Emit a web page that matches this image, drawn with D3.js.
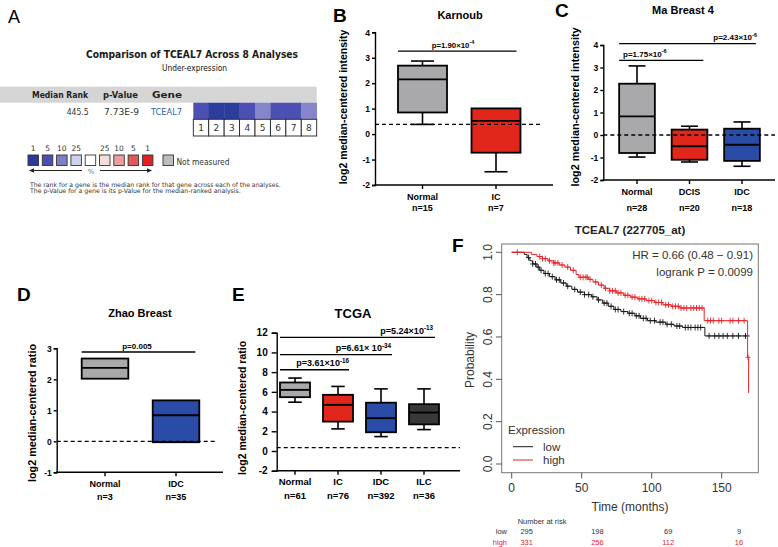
<!DOCTYPE html>
<html><head><meta charset="utf-8">
<script src="https://cdn.jsdelivr.net/npm/d3@7/dist/d3.min.js"></script>
<style>body{margin:0;background:#fff}svg{display:block}</style>
</head><body><svg id="c" width="778" height="547"></svg>
<script>
// ---------------- DATA ----------------
// Panel A
const aTitle = "Comparison of TCEAL7 Across 8 Analyses";
const aSubtitle = "Under-expression";
const aHeader = ["Median Rank", "p-Value", "Gene"];
const aRow = ["445.5", "7.73E-9", "TCEAL7"];
const aCells = [1, 2, 3, 4, 5, 6, 7, 8];
const aCellRank = [5, 1, 1, 5, 10, 5, 5, 10];
const aLegendLabels = ["1", "5", "10", "25", "", "25", "10", "5", "1"];
const aNotes = ["The rank for a gene is the median rank for that gene across each of the analyses.",
                "The p-Value for a gene is its p-Value for the median-ranked analysis."];
// Panel B (Karnoub) : [min, q1, median, q3, max]
const bCats = ["Normal", "IC"];
const bN = ["n=15", "n=7"];
const bStats = [[0.38, 0.85, 2.15, 2.69, 2.87], [-1.48, -0.73, 0.52, 1.01, 1.01]];
const bTicks = [-2, -1, 0, 1, 2, 3, 4];
const bRef = 0.38;
const bP = [{from: "Normal", to: "IC", v: 3.26, txt: "p=1.90×10", exp: "-4"}];
// Panel C (Ma Breast 4)
const cCats = ["Normal", "DCIS", "IDC"];
const cN = ["n=28", "n=20", "n=18"];
const cStats = [[-0.98, -0.8, 0.83, 2.28, 3.07], [-1.2, -1.1, -0.5, 0.24, 0.39], [-1.39, -1.15, -0.43, 0.28, 0.58]];
const cTicks = [-2, -1, 0, 1, 2, 3, 4];
const cRef = 0;
const cP = [{from: "Normal", to: "DCIS", v: 3.32, txt: "p=1.75×10", exp: "-6"},
            {from: "Normal", to: "IDC", v: 4.06, txt: "p=2.43×10", exp: "-6"}];
// Panel D (Zhao Breast)
const dCats = ["Normal", "IDC"];
const dN = ["n=3", "n=35"];
const dStats = [[2.02, 2.02, 2.37, 2.67, 2.67], [-0.03, -0.03, 0.84, 1.32, 1.32]];
const dTicks = [-1, 0, 1, 2, 3];
const dRef = 0;
const dP = [{from: "Normal", to: "IDC", v: 2.88, txt: "p=0.005", exp: ""}];
// Panel E (TCGA)
const eCats = ["Normal", "IC", "IDC", "ILC"];
const eN = ["n=61", "n=76", "n=392", "n=36"];
const eStats = [[4.95, 5.46, 6.2, 6.95, 7.4], [2.24, 2.98, 4.68, 5.7, 6.55], [1.46, 1.9, 3.33, 4.9, 6.3], [2.17, 2.7, 3.9, 4.75, 6.3]];
const eTicks = [-2, 0, 2, 4, 6, 8, 10, 12];
const eRef = 0.34;
const eP = [{from: "Normal", to: "IC", v: 8.24, txt: "p=3.61×10", exp: "-16"},
            {from: "Normal", to: "IDC", v: 9.77, txt: "p=6.61× 10", exp: "-34"},
            {from: "Normal", to: "ILC", v: 11.53, txt: "p=5.24×10", exp: "-13"}];
// Panel F (Kaplan-Meier)
const fTitle = "TCEAL7 (227705_at)";
const fHR = "HR = 0.66 (0.48 \u2212 0.91)";
const fLogrank = "logrank P = 0.0099";
const fXTicks = [0, 50, 100, 150];
const fYTicks = [0, 0.2, 0.4, 0.6, 0.8, 1.0];
const lowT = [0, 9, 11, 13, 15, 18, 20, 23, 27, 31, 35, 39, 43, 47, 52, 57, 61, 65, 69, 73, 78, 83, 88, 92, 97, 103, 110, 116, 122, 138];
const lowS = [1.0, 0.99, 0.975, 0.96, 0.945, 0.93, 0.915, 0.9, 0.885, 0.87, 0.855, 0.84, 0.825, 0.812, 0.8, 0.79, 0.775, 0.76, 0.745, 0.73, 0.72, 0.712, 0.7, 0.688, 0.677, 0.67, 0.66, 0.652, 0.645, 0.605];
const lowEnd = 170;
const lowCensor = [12, 15, 17, 19, 21, 24, 26, 29, 32, 34, 37, 40, 45, 49, 52, 55, 58, 62, 66, 68, 71, 74, 76, 80, 84, 86, 89, 91, 94, 96, 99, 102, 106, 108, 111, 114, 118, 120, 124, 126, 128, 131, 133, 135, 141, 145, 148, 151, 154, 158, 162, 167];
const highT = [0, 14, 18, 22, 26, 30, 34, 38, 42, 46, 48, 55, 58, 62, 66, 70, 75, 80, 85, 90, 96, 102, 108, 114, 120, 137.5, 168.5, 169.2];
const highS = [1.0, 0.99, 0.98, 0.97, 0.96, 0.95, 0.94, 0.93, 0.915, 0.895, 0.882, 0.872, 0.86, 0.845, 0.83, 0.818, 0.808, 0.797, 0.788, 0.78, 0.772, 0.763, 0.752, 0.745, 0.737, 0.677, 0.504, 0.336];
const highEnd = 169.2;
const highCensor = [4, 20, 22, 24, 27, 30, 31, 33, 36, 40, 44, 49, 51, 53, 54, 56, 60, 64, 67, 70, 72, 74, 76, 78, 81, 83, 86, 88, 91, 93, 95, 98, 100, 103, 105, 107, 110, 112, 115, 117, 119, 121, 123, 125, 128, 130, 132, 134, 136, 140, 142, 144, 148, 150, 156, 158, 162, 166, 168.8];
const riskGroups = ["low", "high"];
const riskTimes = [0, 50, 100, 150];
const riskLow = [295, 198, 69, 9];
const riskHigh = [331, 256, 112, 16];

// ---------------- STYLE ----------------
const SANS = "'Liberation Sans', Arial, sans-serif";
const VERD = "'DejaVu Sans', Verdana, sans-serif";
const GRAY = "#a9a9ab", RED = "#e1261c", BLUE = "#2b4ca6", DARK = "#383838";
const KM_RED = "#e8262a", KM_BLACK = "#1a1a1a";
const blueScale = d3.scaleOrdinal().domain([1, 5, 10, 25]).range(["#2d3d9c", "#4b50b2", "#8585c9", "#d3d3ef"]);
const legendColors = ["#2a3a9a", "#4a4fb0", "#8080c4", "#d0d0ee", "#ffffff", "#f7dcdc", "#ee9c9c", "#e05858", "#e02222"];

const svg = d3.select("#c");
svg.append("rect").attr("width", 778).attr("height", 547).attr("fill", "#fff");

// ---------------- PANEL A ----------------
(function () {
  const g = svg.append("g");
  g.append("text").attr("x", 8).attr("y", 23).attr("font-family", SANS).attr("font-size", 18).text("A");
  g.append("text").attr("x", 86).attr("y", 57.5).attr("font-family", VERD).attr("font-weight", "bold").attr("font-size", 10.5)
    .attr("textLength", 212).attr("lengthAdjust", "spacingAndGlyphs").attr("fill", "#1a1a1a").text(aTitle);
  g.append("text").attr("x", 162).attr("y", 71).attr("font-family", VERD).attr("font-size", 8)
    .attr("textLength", 65).attr("lengthAdjust", "spacingAndGlyphs").attr("fill", "#111").text(aSubtitle);
  g.append("rect").attr("x", 0).attr("y", 86.7).attr("width", 316.7).attr("height", 16).attr("fill", "#d5d5d5");
  const hx = [32, 103, 152], hw = [56, 35, 30];
  g.selectAll(".hd").data(aHeader).join("text").attr("x", (d, i) => hx[i]).attr("y", 98.3)
    .attr("font-family", VERD).attr("font-weight", "bold").attr("font-size", 8.5).attr("fill", "#222")
    .attr("textLength", (d, i) => hw[i]).attr("lengthAdjust", "spacingAndGlyphs").text(d => d);
  const rx = [88.7, 104, 151], rw = [22, 35, 31], ra = ["end", "start", "start"];
  g.selectAll(".rw").data(aRow).join("text").attr("x", (d, i) => rx[i]).attr("y", 115)
    .attr("text-anchor", (d, i) => ra[i]).attr("font-family", VERD).attr("font-size", 8.5)
    .attr("fill", (d, i) => i === 2 ? "#2d63aa" : "#333")
    .attr("textLength", (d, i) => rw[i]).attr("lengthAdjust", "spacingAndGlyphs").text(d => d);
  const cx = d3.scaleBand().domain(aCells).range([193.3, 316.7]);
  g.selectAll(".hm").data(aCells).join("rect").attr("x", d => cx(d)).attr("y", 102.7)
    .attr("width", cx.bandwidth() + 0.3).attr("height", 16.6).attr("fill", (d, i) => blueScale(aCellRank[i]));
  g.selectAll(".nb").data(aCells).join("rect").attr("x", d => cx(d)).attr("y", 119.3)
    .attr("width", cx.bandwidth()).attr("height", 16.7).attr("fill", "#fff").attr("stroke", "#222").attr("stroke-width", 0.9);
  g.selectAll(".nt").data(aCells).join("text").attr("x", d => cx(d) + cx.bandwidth() / 2).attr("y", 131)
    .attr("text-anchor", "middle").attr("font-family", VERD).attr("font-size", 9).attr("fill", "#333").text(d => d);
  // legend
  const lx = d3.scaleBand().domain(d3.range(aLegendLabels.length)).range([28, 28 + 14.3 * 9]);
  g.selectAll(".ll").data(aLegendLabels).join("text").attr("x", (d, i) => lx(i) + 5.25).attr("y", 151)
    .attr("text-anchor", "middle").attr("font-family", VERD).attr("font-size", 7.5).attr("fill", "#333").text(d => d);
  g.selectAll(".ls").data(aLegendLabels).join("rect").attr("x", (d, i) => lx(i)).attr("y", 155)
    .attr("width", 10.5).attr("height", 10.5).attr("fill", (d, i) => legendColors[i]).attr("stroke", "#333").attr("stroke-width", 0.9);
  g.append("rect").attr("x", 163).attr("y", 155).attr("width", 10.5).attr("height", 10.5).attr("fill", "#bdbdbd").attr("stroke", "#333").attr("stroke-width", 0.9);
  g.append("text").attr("x", 176.5).attr("y", 164.5).attr("font-family", VERD).attr("font-size", 8.5).attr("fill", "#333")
    .attr("textLength", 53).attr("lengthAdjust", "spacingAndGlyphs").text("Not measured");
  g.append("line").attr("x1", 33).attr("x2", 82).attr("y1", 170.5).attr("y2", 170.5).attr("stroke", "#222").attr("stroke-width", 1);
  g.append("path").attr("d", "M29,170.5 L34,168.3 L34,172.7 Z").attr("fill", "#222");
  g.append("line").attr("x1", 100).attr("x2", 148).attr("y1", 170.5).attr("y2", 170.5).attr("stroke", "#222").attr("stroke-width", 1);
  g.append("path").attr("d", "M152,170.5 L147,168.3 L147,172.7 Z").attr("fill", "#222");
  g.append("text").attr("x", 91).attr("y", 174).attr("text-anchor", "middle").attr("font-family", VERD).attr("font-size", 7).attr("fill", "#777").text("%");
  const nw = [250.7, 210.7];
  g.selectAll(".nn").data(aNotes).join("text").attr("x", 30).attr("y", (d, i) => 187 + i * 5.7)
    .attr("font-family", VERD).attr("font-size", 6.3).attr("fill", "#333")
    .attr("textLength", (d, i) => nw[i]).attr("lengthAdjust", "spacingAndGlyphs").text(d => d);
})();

// ---------------- BOX PANELS ----------------
function boxPanel(o) {
  const g = svg.append("g");
  const y = d3.scaleLinear().domain(o.domain).range([o.bottom, o.top]);
  const x = d3.scalePoint().domain(o.cats).range(o.xr);
  const ya = g.append("g").attr("transform", `translate(${o.left},0)`)
    .call(d3.axisLeft(y).tickValues(o.ticks).tickSizeOuter(0).tickSize(o.tick).tickPadding(o.pad).tickFormat(d => String(d)));
  ya.select(".domain").attr("stroke", "#000").attr("stroke-width", 1.4);
  ya.selectAll(".tick line").attr("stroke", "#000").attr("stroke-width", 1.4);
  ya.selectAll(".tick text").attr("font-family", SANS).attr("font-weight", "bold").attr("font-size", o.tfs).attr("fill", "#000");
  g.append("line").attr("x1", o.left - 0.7).attr("x2", o.right).attr("y1", o.bottom).attr("y2", o.bottom)
    .attr("stroke", "#000").attr("stroke-width", 1.4);
  g.selectAll(".xt").data(o.cats).join("line").attr("x1", d => x(d)).attr("x2", d => x(d))
    .attr("y1", o.bottom).attr("y2", o.bottom + 4).attr("stroke", "#000").attr("stroke-width", 1.4);
  o.stats.forEach((s, i) => {
    const cx = x(o.cats[i]);
    const [lo, q1, md, q3, hi] = s;
    const ln = (x1, y1, x2, y2, w) => g.append("line").attr("x1", x1).attr("y1", y1).attr("x2", x2).attr("y2", y2)
      .attr("stroke", "#000").attr("stroke-width", w);
    if (hi > q3) { ln(cx, y(hi), cx, y(q3), 1.6); ln(cx - o.cap / 2, y(hi), cx + o.cap / 2, y(hi), 1.6); }
    if (lo < q1) { ln(cx, y(q1), cx, y(lo), 1.6); ln(cx - o.cap / 2, y(lo), cx + o.cap / 2, y(lo), 1.6); }
    g.append("rect").attr("x", cx - o.bw / 2).attr("y", y(q3)).attr("width", o.bw).attr("height", y(q1) - y(q3))
      .attr("fill", o.colors[i]).attr("stroke", "#000").attr("stroke-width", 1.8);
    ln(cx - o.bw / 2, y(md), cx + o.bw / 2, y(md), 1.9);
  });
  g.append("line").attr("x1", o.left).attr("x2", o.dashR).attr("y1", y(o.ref)).attr("y2", y(o.ref))
    .attr("stroke", "#000").attr("stroke-width", 1.3).attr("stroke-dasharray", "4,3");
  g.selectAll(".cl").data(o.cats).join("text").attr("x", d => x(d)).attr("y", o.lab1).attr("text-anchor", "middle")
    .attr("font-family", SANS).attr("font-weight", "bold").attr("font-size", o.lfs).text(d => d);
  g.selectAll(".nl").data(o.n).join("text").attr("x", (d, i) => x(o.cats[i])).attr("y", o.lab2).attr("text-anchor", "middle")
    .attr("font-family", SANS).attr("font-weight", "bold").attr("font-size", o.lfs).text(d => d);
  g.append("text").attr("x", o.titleX).attr("y", o.titleY).attr("text-anchor", "middle")
    .attr("font-family", SANS).attr("font-weight", "bold").attr("font-size", o.titfs).text(o.title);
  g.append("text").attr("transform", `translate(${o.ylX},${o.ylY}) rotate(-90)`).attr("text-anchor", "middle")
    .attr("font-family", SANS).attr("font-weight", "bold").attr("font-size", o.ylfs).text(o.ylabel);
  g.append("text").attr("x", o.letterX).attr("y", o.letterY).attr("font-family", SANS).attr("font-weight", "bold")
    .attr("font-size", 19).text(o.letter);
  o.pbars.forEach((p, i) => {
    const x1 = x(p.from) - o.bw / 2, x2 = x(p.to) + o.bw / 2 - 4, yy = y(p.v);
    g.append("line").attr("x1", x1).attr("x2", x2).attr("y1", yy).attr("y2", yy).attr("stroke", "#000").attr("stroke-width", 1.3);
    const t = g.append("text").attr("x", o.pt[i][0]).attr("y", yy - 3.5).attr("text-anchor", o.pt[i][1])
      .attr("font-family", SANS).attr("font-weight", "bold").attr("font-size", o.pfs);
    t.append("tspan").text(p.txt);
    if (p.exp) t.append("tspan").attr("dy", -3.5).attr("font-size", o.pfs * 0.7).text(p.exp);
  });
}

boxPanel({letter: "B", letterX: 333, letterY: 22, title: "Karnoub", titleX: 460, titleY: 19, titfs: 11,
  cats: bCats, n: bN, stats: bStats, ticks: bTicks, ref: bRef, pbars: bP, domain: [-2, 4],
  top: 32.3, bottom: 185, left: 375, right: 553, dashR: 542, xr: [422.5, 496], bw: 49, cap: 23,
  colors: [GRAY, RED], tick: 3, pad: 2, tfs: 8.5, lfs: 9, lab1: 199.5, lab2: 211,
  ylabel: "log2 median-centered intensity", ylX: 347, ylY: 107, ylfs: 10.5, pfs: 7.8, pt: [[453, "middle"]]});

boxPanel({letter: "C", letterX: 555, letterY: 17, title: "Ma Breast 4", titleX: 683, titleY: 14, titfs: 11,
  cats: cCats, n: cN, stats: cStats, ticks: cTicks, ref: cRef, pbars: cP, domain: [-2, 4],
  top: 45, bottom: 180, left: 603.3, right: 775, dashR: 775, xr: [637, 742], bw: 35.7, cap: 17,
  colors: [GRAY, RED, BLUE], tick: 3, pad: 2, tfs: 8.5, lfs: 9, lab1: 195, lab2: 211,
  ylabel: "log2 median-centered intensity", ylX: 579, ylY: 107, ylfs: 10.8, pfs: 8, pt: [[623, "start"], [757, "end"]]});

boxPanel({letter: "D", letterX: 17, letterY: 301, title: "Zhao Breast", titleX: 140, titleY: 317, titfs: 11,
  cats: dCats, n: dN, stats: dStats, ticks: dTicks, ref: dRef, pbars: dP, domain: [-1, 3],
  top: 348.3, bottom: 472.3, left: 56.7, right: 223, dashR: 216.7, xr: [105, 176], bw: 46.6, cap: 20,
  colors: [GRAY, BLUE], tick: 3, pad: 2, tfs: 8.5, lfs: 9, lab1: 486.5, lab2: 500,
  ylabel: "log2 median-centered ratio", ylX: 35.5, ylY: 413, ylfs: 10.8, pfs: 8, pt: [[137, "middle"]]});

boxPanel({letter: "E", letterX: 232, letterY: 301, title: "TCGA", titleX: 353, titleY: 317.5, titfs: 13,
  cats: eCats, n: eN, stats: eStats, ticks: eTicks, ref: eRef, pbars: eP, domain: [-2, 12],
  top: 332.7, bottom: 470.7, left: 276.7, right: 460, dashR: 460, xr: [295, 424], bw: 30, cap: 13.5,
  colors: [GRAY, RED, BLUE, DARK], tick: 5, pad: 4, tfs: 10, lfs: 9.5, lab1: 485, lab2: 498.5,
  ylabel: "log2 median-centered ratio", ylX: 245.5, ylY: 408, ylfs: 10.5, pfs: 9,
  pt: [[349, "end"], [391, "end"], [433, "end"]]});

// ---------------- PANEL F ----------------
(function () {
  const g = svg.append("g");
  const x = d3.scaleLinear().domain([0, 150]).range([511.7, 721.7]);
  const y = d3.scaleLinear().domain([0, 1]).range([464, 252.3]);
  g.append("text").attr("x", 452).attr("y", 252).attr("font-family", SANS).attr("font-weight", "bold").attr("font-size", 19).text("F");
  g.append("text").attr("x", 630).attr("y", 234).attr("text-anchor", "middle").attr("font-family", SANS)
    .attr("font-weight", "bold").attr("font-size", 11.5).attr("fill", "#222").text(fTitle);
  g.append("rect").attr("x", 501.7).attr("y", 244).attr("width", 256.6).attr("height", 228.7)
    .attr("fill", "none").attr("stroke", "#777").attr("stroke-width", 1);
  g.selectAll(".yt").data(fYTicks).join("line").attr("x1", 496).attr("x2", 501.7).attr("y1", d => y(d)).attr("y2", d => y(d))
    .attr("stroke", "#555").attr("stroke-width", 1);
  g.selectAll(".ytl").data(fYTicks).join("text").attr("transform", d => `translate(492,${y(d)}) rotate(-90)`)
    .attr("text-anchor", "middle").attr("font-family", SANS).attr("font-size", 12).attr("fill", "#333").text(d => d.toFixed(1));
  g.selectAll(".xt").data(fXTicks).join("line").attr("x1", d => x(d)).attr("x2", d => x(d)).attr("y1", 472.7).attr("y2", 478.5)
    .attr("stroke", "#555").attr("stroke-width", 1);
  g.selectAll(".xtl").data(fXTicks).join("text").attr("x", d => x(d)).attr("y", 492).attr("text-anchor", "middle")
    .attr("font-family", SANS).attr("font-size", 12).attr("fill", "#333").text(d => d);
  g.append("text").attr("x", 630).attr("y", 511).attr("text-anchor", "middle").attr("font-family", SANS)
    .attr("font-size", 12).attr("fill", "#333").text("Time (months)");
  g.append("text").attr("transform", "translate(474,360) rotate(-90)").attr("text-anchor", "middle").attr("font-family", SANS)
    .attr("font-size", 12).attr("fill", "#333").text("Probability");
  g.append("text").attr("x", 753).attr("y", 259).attr("text-anchor", "end").attr("font-family", SANS).attr("font-size", 11.5).attr("fill", "#333").text(fHR);
  g.append("text").attr("x", 753).attr("y", 275.5).attr("text-anchor", "end").attr("font-family", SANS).attr("font-size", 11.5).attr("fill", "#333").text(fLogrank);

  const stepPath = (T, S, end) => {
    const pts = T.map((t, i) => [t, S[i]]); pts.push([end, S[S.length - 1]]);
    return d3.line().x(d => x(d[0])).y(d => y(d[1])).curve(d3.curveStepAfter)(pts);
  };
  const survAt = (T, S, t) => S[Math.max(0, d3.bisectRight(T, t) - 1)];
  const drawCurve = (T, S, end, cens, col) => {
    g.append("path").attr("d", stepPath(T, S, end)).attr("fill", "none").attr("stroke", col).attr("stroke-width", 1);
    const m = g.selectAll(null).data(cens).join("g").attr("transform", t => `translate(${x(t)},${y(survAt(T, S, t))})`);
    m.append("line").attr("x1", -2.5).attr("x2", 2.5).attr("stroke", col).attr("stroke-width", 0.9);
    m.append("line").attr("y1", -3).attr("y2", 3).attr("stroke", col).attr("stroke-width", 0.9);
  };
  drawCurve(lowT, lowS, lowEnd, lowCensor, KM_BLACK);
  drawCurve(highT, highS, highEnd, highCensor, KM_RED);

  // legend
  g.append("text").attr("x", 508).attr("y", 433.5).attr("font-family", SANS).attr("font-size", 11.5).attr("fill", "#333").text("Expression");
  const lc = [KM_BLACK, KM_RED];
  riskGroups.forEach((r, i) => {
    const yy = 446.7 + i * 13.3;
    g.append("line").attr("x1", 513).attr("x2", 533).attr("y1", yy).attr("y2", yy).attr("stroke", lc[i]).attr("stroke-width", 1);
    g.append("text").attr("x", 543).attr("y", yy + 4).attr("font-family", SANS).attr("font-size", 11.5).attr("fill", "#333").text(r);
  });
  // risk table
  const rx = d3.scalePoint().domain(riskTimes).range([526.7, 739]);
  g.append("text").attr("x", 517.7).attr("y", 523.5).attr("font-family", SANS).attr("font-size", 7.5).attr("fill", "#333").text("Number at risk");
  [riskLow, riskHigh].forEach((arr, i) => {
    const yy = 533.5 + i * 11;
    const col = i === 0 ? "#333" : KM_RED;
    g.append("text").attr("x", 507).attr("y", yy).attr("text-anchor", "end").attr("font-family", SANS).attr("font-size", 7.5).attr("fill", col).text(riskGroups[i]);
    g.selectAll(null).data(arr).join("text").attr("x", (d, j) => rx(riskTimes[j])).attr("y", yy).attr("text-anchor", "middle")
      .attr("font-family", SANS).attr("font-size", 7.5).attr("fill", col).text(d => d);
  });
})();
</script></body></html>
